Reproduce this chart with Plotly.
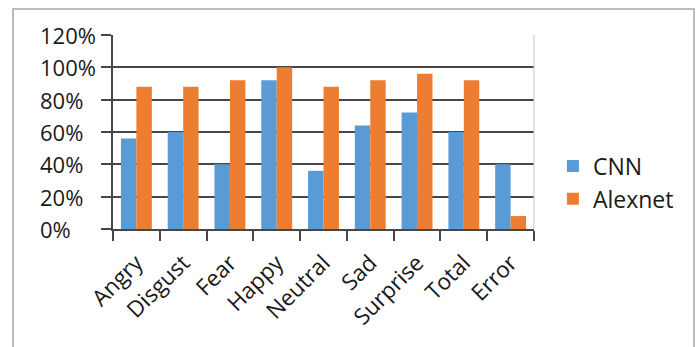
import plotly.graph_objects as go

categories = ["Angry", "Disgust", "Fear", "Happy", "Neutral", "Sad", "Surprise", "Total", "Error"]
cnn = [0.56, 0.60, 0.40, 0.92, 0.36, 0.64, 0.72, 0.60, 0.40]
alexnet = [0.88, 0.88, 0.92, 1.00, 0.88, 0.92, 0.96, 0.92, 0.08]
y_ticks = [0, 0.2, 0.4, 0.6, 0.8, 1.0, 1.2]

FONT = "Open Sans"
AXIS_COLOR = "#474747"
TEXT_COLOR = "#1a1a1a"

fig = go.Figure()
fig.add_bar(x=categories, y=cnn, name="CNN", marker=dict(color="#5B9BD5", line=dict(width=0)))
fig.add_bar(x=categories, y=alexnet, name="Alexnet", marker=dict(color="#ED7D31", line=dict(width=0)))

fig.update_layout(
    width=700, height=347,
    margin=dict(l=113, r=166, t=35, b=118),
    paper_bgcolor="white", plot_bgcolor="white",
    barmode="group", bargap=0.34, bargroupgap=0,
    font=dict(family=FONT, size=22, color=TEXT_COLOR),
    legend=dict(x=1.045, xanchor="left", y=0.24, yanchor="middle",
                font=dict(size=23), itemwidth=30, tracegroupgap=0,
                bgcolor="rgba(0,0,0,0)"),
    xaxis=dict(
        type="category", tickangle=-45, tickson="boundaries",
        ticks="outside", ticklen=10, tickcolor=AXIS_COLOR, tickwidth=1.5,
        showline=True, linecolor=AXIS_COLOR, linewidth=1.5,
        showgrid=False, tickfont=dict(size=22.5), ticklabelstandoff=10,
    ),
    yaxis=dict(
        range=[0, 1.2], tickvals=y_ticks, showticklabels=False,
        ticks="outside", ticklen=10, tickcolor=AXIS_COLOR, tickwidth=1.5,
        showline=True, linecolor=AXIS_COLOR, linewidth=1.5,
        showgrid=True, gridcolor=AXIS_COLOR, gridwidth=1.6,
        zeroline=False,
    ),
)

# left-aligned percentage labels for the value axis
for v in y_ticks:
    fig.add_annotation(x=-0.1781, xref="paper", y=v, yref="y",
                       text=f"{v:.0%}", showarrow=False, xanchor="left",
                       yanchor="middle", font=dict(size=22, color=TEXT_COLOR))

# light right edge of the plotting area
fig.add_shape(type="line", xref="paper", yref="paper", x0=1, x1=1, y0=0, y1=1,
              line=dict(color="#c8c8c8", width=1))
# outer chart frame
fig.add_shape(type="rect", xref="paper", yref="paper",
              x0=-0.2375, x1=1.38, y0=-0.7, y1=1.134,
              line=dict(color="#a6a6a6", width=1.5), layer="below")

fig.write_html("out.html")
